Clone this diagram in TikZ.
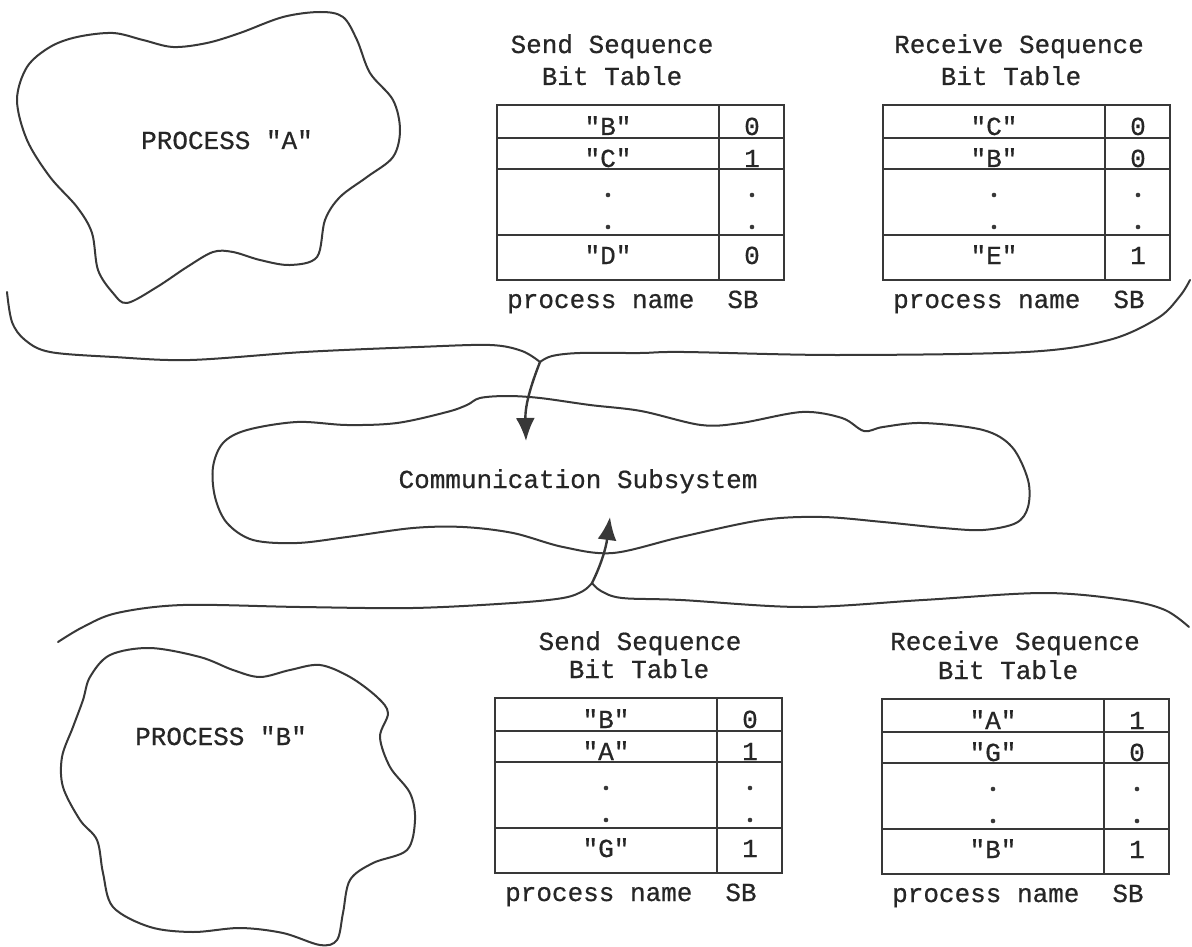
\documentclass[tikz,border=0pt]{standalone}
\usepackage{fontspec}
\setmonofont{Liberation Mono}[FakeBold=0.6]
\usetikzlibrary{arrows.meta}
\definecolor{ink}{rgb}{0.22,0.22,0.22}
\tikzset{
  outline/.style={draw=ink, line width=2pt, line join=round, line cap=round},
  tbl/.style={draw=ink, line width=2.4pt},
  txt/.style={font=\ttfamily\fontsize{26}{30}\selectfont, text=black!85, inner sep=0pt, anchor=base},
  flow/.style={draw=ink, line width=2.4pt, line cap=round, -{Latex[length=23pt,width=19pt]}},
}
% One sequence bit table: name, top-left corner, three (process, bit) entries
\newcommand{\bittable}[8]{%
  \begin{scope}[shift={#2}]
    \draw[tbl] (0,0) rectangle (287,175);
    \draw[tbl] (0,33) -- (287,33) (0,64) -- (287,64) (0,130) -- (287,130);
    \draw[tbl] (222,0) -- (222,175);
    \node[txt] (#1-n1) at (111,30) {#3};
    \node[txt] (#1-b1) at (255,30) {#4};
    \node[txt] (#1-n2) at (111,62) {#5};
    \node[txt] (#1-b2) at (255,62) {#6};
    \fill[ink] (111,90) circle[radius=2.3pt] (111,122) circle[radius=2.3pt]
               (255,90) circle[radius=2.3pt] (255,122) circle[radius=2.3pt];
    \node[txt] (#1-n3) at (111,159) {#7};
    \node[txt] (#1-b3) at (255,159) {#8};
    \node[txt,anchor=base west] (#1-pn) at (10,203) {process name};
    \node[txt] (#1-sb) at (246,203) {SB};
  \end{scope}}
\begin{document}
\begin{tikzpicture}[x=1pt,y=-1pt]
  \fill[white] (0,0) rectangle (1192,947);
  \useasboundingbox (0,0) rectangle (1192,947);

  % ---------- process A ----------
  \draw[outline] plot[smooth cycle, tension=0.55] coordinates {
    (17,100) (27,67) (50,47) (77,37) (113,33) (143,40) (173,47) (207,43)
    (240,33) (283,17) (320,12) (343,17) (357,40) (370,73) (393,100) (400,130)
    (393,157) (367,177) (340,197) (325,220) (317,257) (290,265) (260,260)
    (233,252) (213,252) (187,267) (157,287) (127,303) (113,293) (98,270)
    (92,233) (77,207) (50,177) (27,140)};
  \node[txt] (procA) at (227,149) {PROCESS "A"};

  % ---------- tables of process A ----------
  \node[txt] (tsT1) at (612,53) {Send Sequence};
  \node[txt] (tsT2) at (612,85) {Bit Table};
  \bittable{ts}{(497,105)}{"B"}{0}{"C"}{1}{"D"}{0}
  \node[txt] (trT1) at (1019,53) {Receive Sequence};
  \node[txt] (trT2) at (1011,85) {Bit Table};
  \bittable{tr}{(883,105)}{"C"}{0}{"B"}{0}{"E"}{1}

  % ---------- upper brace and arrow ----------
  \coordinate (topjoin) at (540,362);
  \coordinate (toptip) at (526,441);
  \draw[outline] plot[smooth, tension=0.55] coordinates {
    (7,292) (12,322) (25,340) (50,352) (114,357) (190,360) (304,352)
    (418,347) (490,345) (522,351) (topjoin)};
  \draw[outline] plot[smooth, tension=0.55] coordinates {
    (topjoin) (552,356) (580,353) (640,353) (684,352) (836,355) (1026,352)
    (1109,340) (1158,318) (1180,296) (1190,280)};
  \draw[flow] (topjoin) .. controls (531,385) and (525,405) .. (toptip);

  % ---------- communication subsystem ----------
  \draw[outline] plot[smooth cycle, tension=0.55] coordinates {
    (223,443) (247,430) (297,422) (347,425) (397,423) (447,412) (467,405)
    (480,398) (507,396) (540,398) (590,405) (641,411) (701,425) (741,423)
    (802,412) (842,418) (864,431) (883,427) (923,423) (983,430) (1012,447)
    (1028,480) (1028,507) (1016,523) (983,530) (943,528) (883,522) (822,517)
    (762,520) (681,537) (613,553) (563,547) (513,533) (463,527) (413,528)
    (347,537) (297,543) (253,540) (227,523) (215,497) (213,467)};
  \node[txt] (comm) at (578,488) {Communication Subsystem};

  % ---------- lower brace and arrow ----------
  \coordinate (botjoin) at (592,583);
  \coordinate (bottip) at (610,517);
  \draw[outline] plot[smooth, tension=0.55] coordinates {
    (58,642) (83,627) (117,613) (183,605) (300,607) (413,608) (513,603)
    (563,598) (583,591) (botjoin)};
  \draw[outline] plot[smooth, tension=0.55] coordinates {
    (botjoin) (601,591) (622,598) (681,600) (802,607) (923,600) (1044,593)
    (1125,600) (1165,610) (1189,627)};
  \draw[flow] (botjoin) .. controls (601,565) and (606,548) .. (bottip);

  % ---------- process B ----------
  \draw[outline] plot[smooth cycle, tension=0.55] coordinates {
    (90,677) (110,655) (150,648) (200,657) (233,670) (260,677) (290,670)
    (320,665) (350,677) (377,697) (388,713) (380,737) (390,767) (410,793)
    (415,820) (407,850) (373,863) (350,880) (343,913) (337,940) (320,945)
    (283,933) (240,928) (193,932) (150,927) (113,907) (103,873) (97,840)
    (80,820) (63,787) (62,757) (73,727) (83,700)};
  \node[txt] (procB) at (221,745) {PROCESS "B"};

  % ---------- tables of process B ----------
  \node[txt] (bsT1) at (640,650) {Send Sequence};
  \node[txt] (bsT2) at (639,678) {Bit Table};
  \bittable{bs}{(495,698)}{"B"}{0}{"A"}{1}{"G"}{1}
  \node[txt] (brT1) at (1015,650) {Receive Sequence};
  \node[txt] (brT2) at (1008,679) {Bit Table};
  \bittable{br}{(882,699)}{"A"}{1}{"G"}{0}{"B"}{1}
\end{tikzpicture}
\end{document}
